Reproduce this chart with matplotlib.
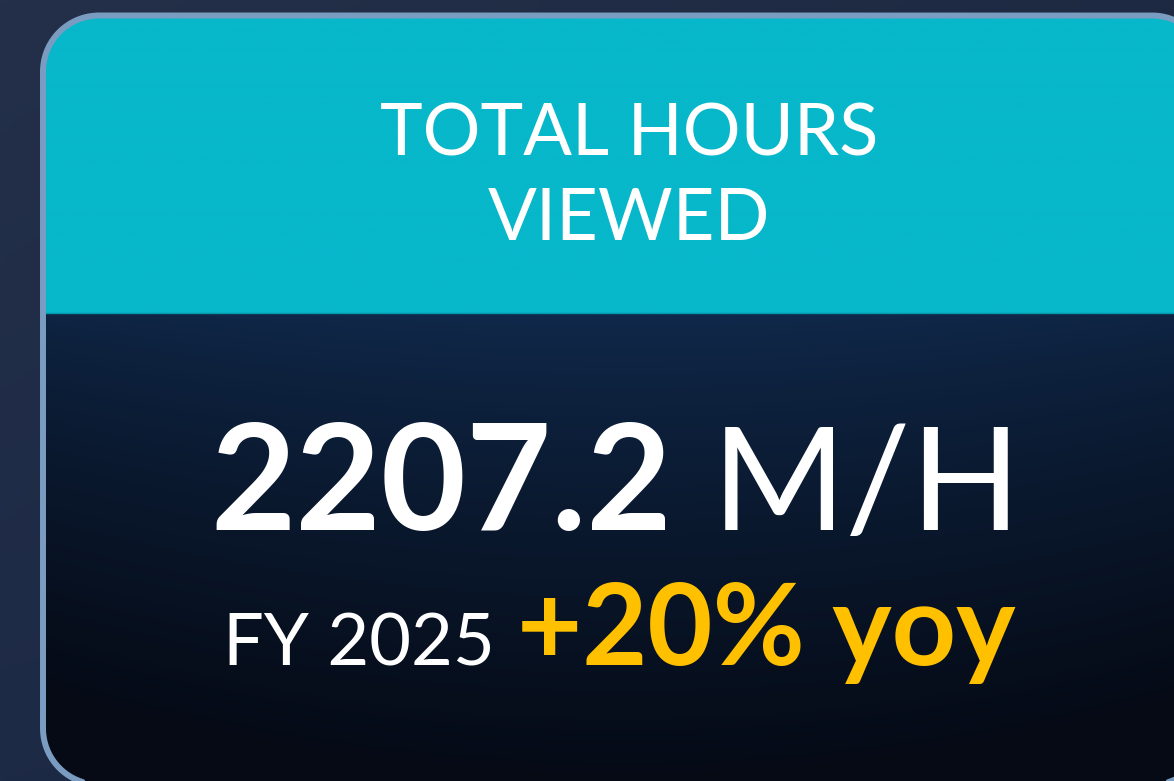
import numpy as np
import matplotlib
matplotlib.use('Agg')
from matplotlib import pyplot as plt
from matplotlib.patches import PathPatch
from matplotlib.path import Path
from matplotlib.colors import to_rgb

# card content
header_lines = ["TOTAL HOURS", "VIEWED"]
value_text = "2207.2"
unit_text = "M/H"
period_text = "FY 2025"
change_text = "+20% yoy"

W, H = 1174, 781
FONT = ["Lato", "DejaVu Sans"]

fig = plt.figure(figsize=(W / 100, H / 100), dpi=100)
ax = fig.add_axes([0, 0, 1, 1])
ax.axis('off')


def gradient(c_top, c_bot, c_right=None, n=256):
    t = np.linspace(0, 1, n)[:, None, None]
    top = np.array(to_rgb(c_top))
    bot = np.array(to_rgb(c_bot))
    img = top * (1 - t) + bot * t
    img = np.repeat(img, n, axis=1)
    if c_right is not None:
        s = np.linspace(0, 1, n)[None, :, None]
        img = img * (1 - 0.5 * s) + np.array(to_rgb(c_right)) * 0.5 * s
    return img


def rounded_pts(x0, y0, w, h, r, n=40):
    # outline points with sampled arcs (y grows downward)
    pts = []
    corners = [(x0 + r, y0 + r, np.pi, 1.5 * np.pi),
               (x0 + w - r, y0 + r, 1.5 * np.pi, 2 * np.pi),
               (x0 + w - r, y0 + h - r, 0, 0.5 * np.pi),
               (x0 + r, y0 + h - r, 0.5 * np.pi, np.pi)]
    for cx, cy, a0, a1 in corners:
        a = np.linspace(a0, a1, n)
        pts.extend(zip(cx + r * np.cos(a), cy + r * np.sin(a)))
    pts.append(pts[0])
    return np.array(pts)


# page background
ax.imshow(gradient("#243049", "#1d2a46", "#17213b"), extent=[0, W, H, 0],
          aspect='auto', zorder=0)

# card shape
cx0, cy0, cw, ch, rad = 43, 15.5, 1165, 769, 56
outline = rounded_pts(cx0, cy0, cw, ch, rad)
card = PathPatch(Path(outline, closed=True), facecolor='none', edgecolor='none')
ax.add_patch(card)

head_bottom = 313
im1 = ax.imshow(gradient("#07b7ca", "#07b7ca"), extent=[cx0, cx0 + cw, head_bottom, cy0],
                aspect='auto', zorder=1)
im1.set_clip_path(card)

# dark lower panel, slightly lighter near top centre
n = 256
yy = np.linspace(0, 1, n)[:, None]
xx = np.linspace(-1, 1, n)[None, :]
top_c = np.array(to_rgb("#10294b"))
bot_c = np.array(to_rgb("#050a15"))
t = np.clip(yy ** 0.8 + 0.15 * xx ** 2, 0, 1)[:, :, None]
panel = top_c * (1 - t) + bot_c * t
im2 = ax.imshow(panel, extent=[cx0, cx0 + cw, cy0 + ch, head_bottom],
                aspect='auto', zorder=1)
im2.set_clip_path(card)

# thin seam under the header
ax.plot([cx0, cx0 + cw], [head_bottom, head_bottom], color="#0597aa", lw=1.0, zorder=2)

# border drawn as an open line so clipping at the canvas edge stays clean
ax.plot(outline[:, 0], outline[:, 1], color="#7b9cc1", lw=4.3,
        solid_joinstyle='round', solid_capstyle='round', zorder=3)

# imshow resets the view, so fix the pixel frame last
ax.set_xlim(0, W)
ax.set_ylim(H, 0)

# header text
ax.text(629, 155, header_lines[0], color='white', fontsize=52, family=FONT,
        ha='center', va='baseline', zorder=4)
ax.text(629, 240, header_lines[1], color='white', fontsize=52, family=FONT,
        ha='center', va='baseline', zorder=4)

renderer = fig.canvas.get_renderer()


def pair(x_center, y, left, right, gap):
    t1 = ax.text(0, y, left[0], color=left[1], fontsize=left[2], fontweight=left[3],
                 family=FONT, ha='left', va='baseline', zorder=4)
    t2 = ax.text(0, y, right[0], color=right[1], fontsize=right[2], fontweight=right[3],
                 family=FONT, ha='left', va='baseline', zorder=4)
    w1 = t1.get_window_extent(renderer).width
    w2 = t2.get_window_extent(renderer).width
    x0 = x_center - (w1 + gap + w2) / 2
    t1.set_x(x0)
    t2.set_x(x0 + w1 + gap)


pair(616, 530, (value_text, 'white', 106, 'bold'), (unit_text, 'white', 104, 'normal'), 40)
pair(619, 665, (period_text, 'white', 52, 'normal'), (change_text, '#ffc000', 81, 'bold'), 22)

fig.savefig("out.png", dpi=100)
